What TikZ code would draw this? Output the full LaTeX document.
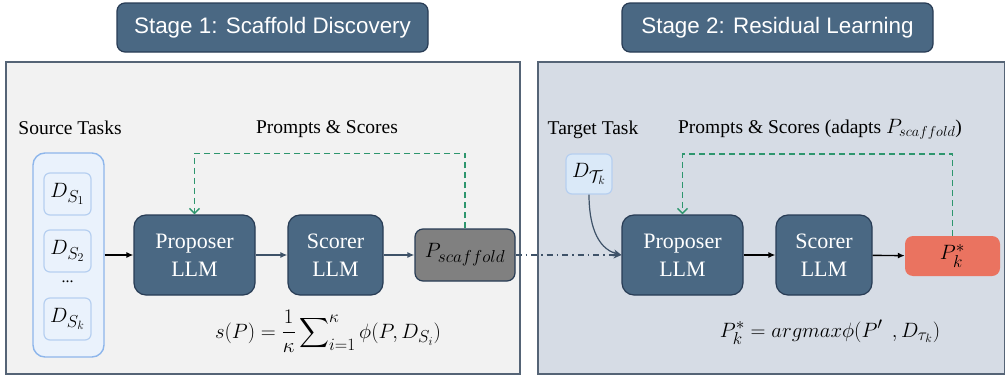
\documentclass[tikz,border=0pt]{standalone}
\usepackage{amsmath}
\usepackage{fontspec}
\setmainfont{Liberation Serif}
\setsansfont{Liberation Sans}
\usepackage{xcolor}
\usepackage{tikz}
\usetikzlibrary{arrows.meta}
\DeclareMathSizes{21}{21}{16}{12}
\definecolor{stageblue}{RGB}{74,104,131}
\definecolor{stageline}{RGB}{40,60,85}
\definecolor{panelgray}{RGB}{242,242,242}
\definecolor{panelblue}{RGB}{214,220,229}
\definecolor{panelline}{RGB}{85,100,118}
\definecolor{srcfill}{RGB}{234,242,252}
\definecolor{srcline}{RGB}{142,182,235}
\definecolor{srcinner}{RGB}{182,207,240}
\definecolor{tgtfill}{RGB}{218,233,248}
\definecolor{loopgreen}{RGB}{46,150,110}
\definecolor{flowgray}{RGB}{62,82,104}
\definecolor{bestred}{RGB}{234,115,96}

\begin{document}
\begin{tikzpicture}[x=1pt, y=-1pt,
    stage/.style={draw=stageline, line width=1.2pt, fill=stageblue,
      rounded corners=8pt, minimum width=311pt, minimum height=49pt,
      inner sep=0pt, text=white, font=\sffamily\fontsize{22.4}{26}\selectfont},
    llm/.style={draw=stageline, line width=1.2pt, fill=stageblue,
      rounded corners=12pt, minimum height=80pt, inner sep=0pt,
      text=white, align=center, font=\fontsize{22}{28}\selectfont},
    taskbox/.style={draw=srcinner, line width=1.2pt, fill=srcfill,
      rounded corners=6pt, minimum width=47pt, minimum height=42pt,
      inner sep=0pt, font=\fontsize{21}{24}\selectfont},
    label/.style={anchor=base, inner sep=0pt, font=\fontsize{19.5}{24}\selectfont},
    flow/.style={line width=1.4pt, -{Latex[length=7pt,width=6pt]}},
    feedback/.style={draw=loopgreen, line width=1.4pt, dash pattern=on 6pt off 4pt,
      -{Straight Barb[length=5pt,width=10pt]}},
  ]
  \useasboundingbox (0,0) rectangle (1005,375);

  % panels
  \draw[draw=panelline, line width=1.4pt, fill=panelgray] (6,62) rectangle (520,374);
  \draw[draw=panelline, line width=1.4pt, fill=panelblue] (538,62) rectangle (1005,374);

  % stage titles
  \node[stage] (stage1) at (272.5,27.5) {Stage 1: Scaffold Discovery};
  \node[stage] (stage2) at (777.5,27.5) {Stage 2: Residual Learning\hspace{16pt}};

  % stage 1
  \node[label] (srclabel) at (70,134) {Source Tasks};
  \node[label] (looplabel1) at (327,133) {Prompts \& Scores};

  \node[draw=srcline, line width=1.4pt, fill=srcfill, rounded corners=12pt,
    minimum width=71pt, minimum height=204pt, inner sep=0pt] (src) at (68.5,255) {};
  \node[taskbox] (s1) at (67.5,194) {$D_{S_1}$};
  \node[taskbox] (s2) at (67.5,251) {$D_{S_2}$};
  \node[font=\fontsize{16}{20}\selectfont, inner sep=0pt] (sdots) at (67.5,282) {...};
  \node[taskbox] (sk) at (67.5,319) {$D_{S_k}$};

  \node[llm, minimum width=121pt] (prop1) at (194.5,255) {Proposer\\LLM};
  \node[llm, minimum width=95pt] (scor1) at (335.5,255) {Scorer\\LLM};
  \node[draw=stageline, line width=1.2pt, fill=black!50, rounded corners=8pt,
    minimum width=100pt, minimum height=52pt, inner sep=0pt,
    font=\fontsize{21}{24}\selectfont] (scaf) at (465,255) {$P_{scaffold}$};

  \draw[flow, black] (src) -- (prop1);
  \draw[flow, flowgray] (prop1) -- (scor1);
  \draw[flow, flowgray] (scor1) -- (scaf);
  \draw[feedback] (scaf.north) -- ++(0,-75) -| (prop1.north);

  \node[label, font=\fontsize{21}{24}\selectfont] (score1) at (328,338)
    {$s(P)=\dfrac{1}{\kappa}\displaystyle\sum\nolimits_{i=1}^{\kappa}\phi(P,D_{S_i})$};

  % stage 2
  \node[label] (tgtlabel) at (593,134) {Target Task};
  \node[label] (looplabel2) at (820,133) {Prompts \& Scores (adapts $P_{scaffold}$)};

  \node[taskbox, draw=srcinner, fill=tgtfill, minimum width=46pt, minimum height=40pt]
    (tgt) at (589,174) {$D_{\mathcal{T}_k}$};

  \node[llm, minimum width=121pt] (prop2) at (682.5,255) {Proposer\\LLM};
  \node[llm, minimum width=96pt] (scor2) at (824,255) {Scorer\\LLM};
  \node[fill=bestred, rounded corners=8pt, minimum width=95pt, minimum height=40pt,
    inner sep=0pt, font=\fontsize{21}{24}\selectfont] (best) at (952.5,256) {$P_k^*$};

  \draw[flow, black] (prop2) -- (scor2);
  \draw[flow, black] (scor2) -- (best);
  \draw[feedback] (best.north) -- ++(0,-82) -| (prop2.north);
  \draw[flowgray, line width=1.2pt, -{Stealth[length=8pt,width=7pt]}]
    (tgt.south) to[out=-90, in=165] (prop2.west);
  \draw[flowgray, line width=1.4pt, dash pattern=on 6pt off 4pt on 1.5pt off 4pt,
    -{Stealth[length=8pt,width=7pt]}] (scaf) -- (prop2);

  \node[label, font=\fontsize{21}{24}\selectfont] (score2) at (830,337)
    {$P_k^*=argmax\phi(P'\;\,,D_{\tau_k})$};
\end{tikzpicture}
\end{document}
